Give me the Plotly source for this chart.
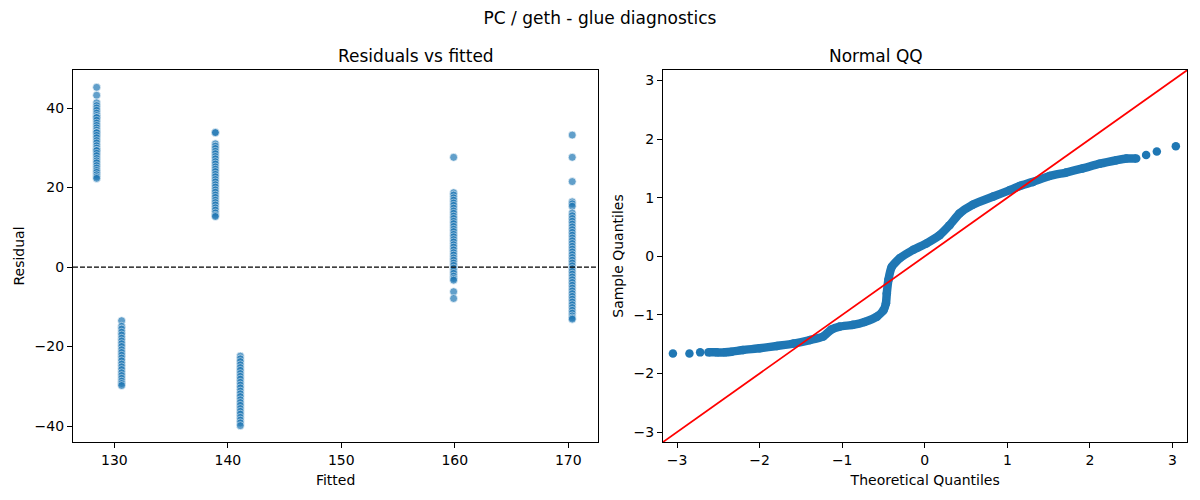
import plotly.graph_objects as go
from plotly.subplots import make_subplots

# fitted value of each group and its residuals
fitted_levels = [128.44, 130.64, 138.9, 141.1, 159.9, 170.35]
resid_g1 = [45.2, 43.2, 41.3, 40.6, 40.0, 39.4, 38.7, 38.1, 37.6, 37.6, 36.9, 36.2, 35.6, 35.0, 34.4,
            33.8, 33.8, 33.1, 32.5, 31.8, 31.2, 30.5, 29.9, 29.3, 29.3, 28.6, 28.0, 27.3, 26.7, 26.2,
            25.5, 24.9, 24.3, 23.8, 23.2, 22.7, 22.3]
resid_g2 = [-13.5, -14.9, -15.6, -16.4, -17.1, -17.9, -18.6, -19.3, -20.0, -20.8, -21.5, -22.2, -22.9,
            -23.6, -24.4, -25.1, -25.8, -26.6, -27.3, -28.0, -28.7, -29.3, -29.8]
resid_g3 = [33.9, 33.8, 31.0, 30.4, 29.8, 29.1, 28.5, 27.8, 27.2, 26.5, 25.9, 25.2, 24.6, 24.0, 23.3,
            22.7, 22.0, 21.4, 20.7, 20.1, 19.4, 18.8, 18.1, 17.5, 16.8, 16.2, 15.6, 14.9, 14.3, 13.6,
            13.0, 12.7]
resid_g4 = [-22.4, -23.1, -23.8, -24.6, -25.3, -26.0, -26.8, -27.5, -28.2, -29.0, -29.7, -30.4, -31.2,
            -31.9, -32.6, -33.4, -34.1, -34.8, -35.6, -36.3, -37.0, -37.8, -38.5, -39.2, -39.9]
resid_g5 = [27.6, 18.7, 18.1, 17.4, 16.8, 16.1, 15.5, 14.8, 14.1, 13.5, 12.8, 12.2, 11.5, 10.9, 10.2,
            9.5, 8.9, 8.2, 7.6, 6.9, 6.3, 5.6, 5.0, 4.3, 3.6, 3.0, 2.3, 1.7, 1.0, 0.4, -0.3, -1.0,
            -1.6, -2.3, -2.9, -3.3, -6.2, -7.9]
resid_g6 = [33.2, 27.6, 21.5, 16.4, 15.9, 15.3, 13.6, 12.9, 12.2, 11.5, 10.8, 10.1, 9.4, 8.7, 8.0,
            7.3, 6.6, 5.9, 5.2, 4.5, 3.8, 3.1, 2.4, 1.7, 1.0, 0.3, -0.4, -1.1, -1.8, -2.5, -3.2, -3.9,
            -4.6, -5.3, -6.0, -6.7, -7.4, -8.1, -8.8, -9.5, -10.2, -10.9, -11.6, -12.3, -12.8, -13.1]
resid_groups = [resid_g1, resid_g2, resid_g3, resid_g4, resid_g5, resid_g6]

# normal QQ points (theoretical, sample), read along the plotted band
qq_theoretical = [-3.05, -2.85, -2.72, -2.62, -2.52, -2.42, -2.34, -2.20, -2.00, -1.79, -1.59, -1.39,
                  -1.23, -1.13, -1.03, -0.87, -0.73, -0.58, -0.50, -0.47, -0.46, -0.44, -0.40, -0.30,
                  -0.14, 0.02, 0.18, 0.30, 0.42, 0.58, 0.83, 1.03, 1.15, 1.31, 1.51, 1.71, 1.91,
                  2.12, 2.32, 2.44, 2.56, 2.68, 2.81, 3.04]
qq_sample = [-1.66, -1.66, -1.64, -1.64, -1.64, -1.64, -1.63, -1.60, -1.57, -1.53, -1.49, -1.43,
             -1.37, -1.25, -1.20, -1.17, -1.12, -1.03, -0.92, -0.80, -0.63, -0.40, -0.18, -0.03,
             0.11, 0.22, 0.36, 0.53, 0.73, 0.88, 1.02, 1.13, 1.20, 1.27, 1.37, 1.43, 1.50,
             1.58, 1.64, 1.67, 1.67, 1.73, 1.79, 1.88]
qq_limits = [-3.17, 3.18]

fitted_x = []
resid_y = []
for f, grp in zip(fitted_levels, resid_groups):
    fitted_x += [f] * len(grp)
    resid_y += grp

blue = "#1f77b4"
font = "DejaVu Sans, sans-serif"

fig = make_subplots(rows=1, cols=2)

fig.add_trace(go.Scatter(x=fitted_x, y=resid_y, mode="markers",
                         marker=dict(color=blue, size=8, opacity=0.7,
                                     line=dict(color="white", width=0.7))),
              row=1, col=1)
fig.add_hline(y=0, line=dict(color="black", width=1.2, dash="5px,2px"), opacity=1, row=1, col=1)

# dense body of the QQ band
fig.add_trace(go.Scatter(x=qq_theoretical[3:41], y=qq_sample[3:41], mode="lines",
                         line=dict(color=blue, width=8.5, shape="spline", smoothing=0.5)),
              row=1, col=2)
fig.add_trace(go.Scatter(x=qq_theoretical, y=qq_sample, mode="markers",
                         marker=dict(color=blue, size=8.5)),
              row=1, col=2)
fig.add_trace(go.Scatter(x=qq_limits, y=qq_limits, mode="lines",
                         line=dict(color="red", width=1.8)),
              row=1, col=2)

axis_style = dict(showline=True, linecolor="black", linewidth=1, mirror=True,
                  ticks="outside", ticklen=5, tickcolor="black", showgrid=False,
                  zeroline=False, tickfont=dict(size=14, color="black"),
                  title_font=dict(size=14, color="black"), automargin=False)

fig.update_xaxes(axis_style)
fig.update_yaxes(axis_style)

fig.update_xaxes(domain=[0.0608, 0.4985], range=[126.35, 172.64], tickvals=[130, 140, 150, 160, 170],
                 title_text="Fitted", title_standoff=8, row=1, col=1)
fig.update_yaxes(domain=[0.116, 0.86], range=[-44.0, 49.56], tickvals=[-40, -20, 0, 20, 40],
                 title_text="Residual", title_standoff=6, row=1, col=1)
fig.update_xaxes(domain=[0.5525, 0.9895], range=qq_limits, tickvals=[-3, -2, -1, 0, 1, 2, 3],
                 title_text="Theoretical Quantiles", title_standoff=8, row=1, col=2)
fig.update_yaxes(domain=[0.116, 0.86], range=qq_limits, tickvals=[-3, -2, -1, 0, 1, 2, 3],
                 title_text="Sample Quantiles", title_standoff=6, row=1, col=2)

fig.update_layout(
    width=1200, height=500,
    margin=dict(l=0, r=0, t=0, b=0),
    paper_bgcolor="white", plot_bgcolor="white",
    showlegend=False,
    font=dict(family=font, color="black"),
    title=dict(text="PC / geth - glue diagnostics", x=0.5, xanchor="center",
               y=0.964, yanchor="middle", font=dict(size=17, color="black")),
    annotations=[
        dict(text="Residuals vs fitted", x=(0.0608 + 0.4985) / 2, y=0.888, xref="paper",
             yref="paper", yanchor="middle", showarrow=False, font=dict(size=17, color="black")),
        dict(text="Normal QQ", x=(0.5525 + 0.9895) / 2, y=0.888, xref="paper",
             yref="paper", yanchor="middle", showarrow=False, font=dict(size=17, color="black")),
    ],
)

fig.write_html("out.html", config={"displayModeBar": False},
               post_script="document.body.style.margin = '0';")
